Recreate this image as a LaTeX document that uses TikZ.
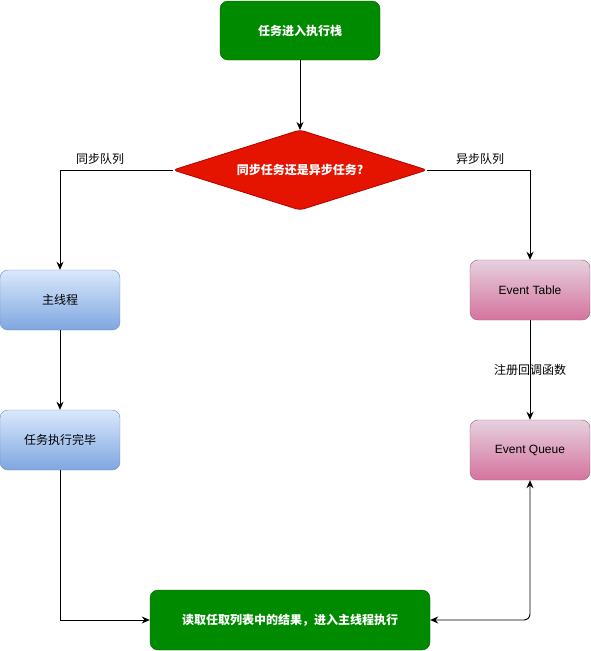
\documentclass[tikz,border=0pt]{standalone}
\usepackage{fontspec}
\setmainfont{Liberation Sans}
\newfontfamily\cjk{Noto Sans CJK SC}
\usetikzlibrary{arrows.meta,shapes.geometric}
\definecolor{gfill}{HTML}{008A00}
\definecolor{gline}{HTML}{005700}
\definecolor{rfill}{HTML}{E51400}
\definecolor{rline}{HTML}{B20000}
\definecolor{btop}{HTML}{DAE8FC}
\definecolor{bbot}{HTML}{7EA6E0}
\definecolor{bline}{HTML}{6C8EBF}
\definecolor{ptop}{HTML}{E6D0DE}
\definecolor{pbot}{HTML}{D5739D}
\definecolor{pline}{HTML}{996185}
\tikzset{
  greenbox/.style={draw=gline, fill=gfill, rounded corners=8pt, text=white, font=\cjk\fontsize{12}{14}\selectfont\bfseries, inner sep=0pt},
  bluebox/.style={draw=bline, top color=btop, bottom color=bbot, rounded corners=8pt, minimum width=120pt, minimum height=60pt, font=\cjk\fontsize{12}{14}\selectfont, inner sep=0pt},
  pinkbox/.style={draw=pline, top color=ptop, bottom color=pbot, rounded corners=8pt, minimum width=120pt, minimum height=60pt, font=\fontsize{12}{14}\selectfont, inner sep=0pt},
  conn/.style={draw=black, line width=0.9pt, -{Stealth[length=8pt,width=7pt]}},
  lbl/.style={font=\cjk\fontsize{12}{14}\selectfont, inner sep=1pt}
}
\begin{document}
\begin{tikzpicture}[x=1pt,y=-1pt]
\useasboundingbox (0,0) rectangle (591,651);
\node[greenbox, minimum width=160pt, minimum height=59pt] (start) at (300,30.5) {任务进入执行栈};
\filldraw[draw=rline, fill=rfill, rounded corners=4pt, line width=0.8pt] (173,170) -- (300,130) -- (427,170) -- (300,210) -- cycle;
\node[font=\cjk\fontsize{12}{14}\selectfont\bfseries, text=white, inner sep=0pt] (dlabel) at (300,170) {同步任务还是异步任务?};
\coordinate (dtop) at (300,130);
\coordinate (dleft) at (173,170);
\coordinate (dright) at (427,170);
\node[bluebox] (main) at (60,300) {主线程};
\node[bluebox] (done) at (60,440) {任务执行完毕};
\node[pinkbox] (table) at (530,290) {Event Table};
\node[pinkbox] (queue) at (530,450) {Event Queue};
\node[greenbox, minimum width=280pt, minimum height=60pt] (final) at (290,620) {读取任取列表中的结果，进入主线程执行};
\draw[conn] (start.south) -- (dtop);
\draw[conn] (dleft) -| (main.north);
\draw[conn] (dright) -| (table.north);
\node[lbl] (l1) at (100,159) {同步队列};
\node[lbl] (l2) at (480,159) {异步队列};
\draw[conn] (main.south) -- (done.north);
\draw[conn] (done.south) |- (final.west);
\draw[conn] (table.south) -- (queue.north);
\node[lbl] (l3) at (530,370) {注册回调函数};
\draw[draw=black, line width=0.9pt, {Stealth[length=8pt,width=7pt]}-{Stealth[length=8pt,width=7pt]}, rounded corners=6pt] (final.east) -| (queue.south);
\end{tikzpicture}
\end{document}
